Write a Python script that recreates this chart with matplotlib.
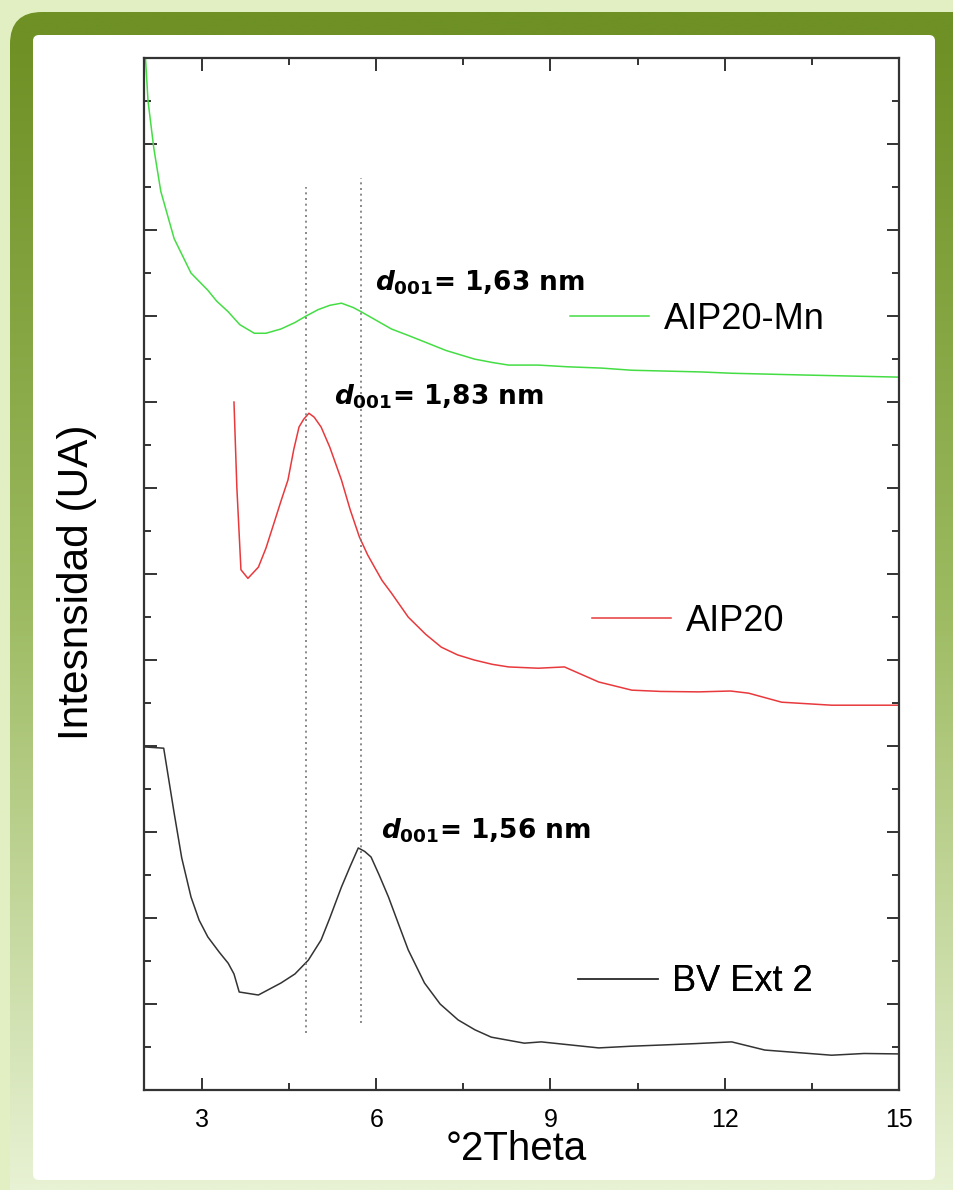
import numpy as np
import matplotlib
matplotlib.use("Agg")
from matplotlib import pyplot as plt
from matplotlib.patches import FancyBboxPatch
from matplotlib.ticker import MultipleLocator

plt.rcParams['font.family'] = ['Liberation Sans', 'DejaVu Sans']
plt.rcParams['mathtext.fontset'] = 'custom'
plt.rcParams['mathtext.rm'] = 'DejaVu Sans:bold'
plt.rcParams['mathtext.it'] = 'DejaVu Sans:oblique:bold'

green_x = [2.0, 2.07, 2.17, 2.29, 2.52, 2.81, 3.10, 3.25, 3.45, 3.65, 3.90, 4.10, 4.36, 4.60,
           4.79, 5.00, 5.20, 5.40, 5.60, 5.74, 6.00, 6.26, 6.55, 6.83, 7.20, 7.69, 8.00, 8.28,
           8.79, 9.30, 9.88, 10.40, 11.60, 12.12, 13.33, 15.0]
green_y = [24.6, 23.0, 21.9, 20.9, 19.8, 19.0, 18.6, 18.35, 18.1, 17.8, 17.6, 17.6, 17.7, 17.85,
           18.0, 18.15, 18.25, 18.3, 18.2, 18.1, 17.9, 17.7, 17.55, 17.4, 17.2, 17.0, 16.92, 16.86,
           16.86, 16.82, 16.79, 16.74, 16.70, 16.67, 16.63, 16.58]

red_x = [3.55, 3.60, 3.67, 3.79, 3.97, 4.10, 4.24, 4.36, 4.48, 4.58, 4.67, 4.75, 4.84, 4.93,
         5.05, 5.20, 5.40, 5.55, 5.71, 5.85, 5.97, 6.10, 6.26, 6.55, 6.85, 7.12, 7.40, 7.69,
         8.00, 8.28, 8.79, 9.24, 9.83, 10.40, 10.90, 11.55, 12.10, 12.41, 12.98, 13.84, 15.0]
red_y = [16.0, 14.0, 12.1, 11.9, 12.16, 12.6, 13.19, 13.7, 14.19, 14.9, 15.42, 15.6, 15.74, 15.65,
         15.42, 14.95, 14.19, 13.5, 12.86, 12.45, 12.16, 11.85, 11.56, 11.0, 10.6, 10.3, 10.12, 10.0,
         9.9, 9.84, 9.81, 9.84, 9.49, 9.30, 9.27, 9.26, 9.28, 9.23, 9.02, 8.95, 8.95]

black_x = [2.0, 2.34, 2.52, 2.65, 2.81, 2.95, 3.10, 3.30, 3.45, 3.55, 3.64, 3.97, 4.36, 4.60,
           4.83, 5.05, 5.20, 5.40, 5.55, 5.69, 5.80, 5.91, 6.05, 6.21, 6.40, 6.55, 6.83, 7.10,
           7.41, 7.70, 7.98, 8.55, 8.84, 9.83, 10.40, 10.97, 11.50, 12.12, 12.69, 13.84, 14.40, 15.0]
black_y = [7.98, 7.95, 6.44, 5.4, 4.49, 3.95, 3.56, 3.2, 2.95, 2.7, 2.28, 2.21, 2.49, 2.7,
           3.02, 3.49, 4.0, 4.72, 5.2, 5.63, 5.55, 5.42, 5.0, 4.49, 3.8, 3.26, 2.49, 2.0,
           1.63, 1.4, 1.23, 1.09, 1.12, 0.98, 1.02, 1.05, 1.08, 1.12, 0.93, 0.81, 0.85, 0.84]

names = ["AIP20-Mn", "AIP20", "BV Ext 2"]
colors = ["#44dd44", "#e8393c", "#333333"]

# lineas de referencia (posicion de los picos)
peak_x = [4.79, 5.74]
peak_ymin = [1.33, 1.56]
peak_ymax = [21.0, 21.2]

# etiquetas d001
d_labels = ["= 1,63 nm", "= 1,83 nm", "= 1,56 nm"]
d_x = [5.97, 5.28, 6.09]
d_y = [18.6, 15.95, 5.86]

# posicion de cada leyenda (fraccion de ejes)
leg_pos = [(0.564, 0.747), (0.593, 0.4545), (0.575, 0.1047)]

fig = plt.figure(figsize=(9.54, 11.9), dpi=100, facecolor="#e2efc3")

# marco verde con degradado
bg = fig.add_axes([0, 0, 1, 1])
bg.set_xlim(0, 954)
bg.set_ylim(1190, 0)
bg.axis("off")
rows = np.linspace(0, 1190, 400)
stops = [0, 40, 600, 1190]
c_top = np.array([0x6e, 0x90, 0x24]) / 255
c_mid = np.array([0x9c, 0xba, 0x60]) / 255
c_bot = np.array([0xe8, 0xf2, 0xd4]) / 255
cols = np.stack([c_top, c_top, c_mid, c_bot])
grad = np.stack([np.interp(rows, stops, cols[:, k]) for k in range(3)], axis=-1)[:, None, :]
frame = FancyBboxPatch((10, 12), 1000, 1300, boxstyle="round,pad=0,rounding_size=32",
                       facecolor="none", edgecolor="none")
bg.add_patch(frame)
im = bg.imshow(grad, extent=[0, 954, 1190, 0], aspect="auto", zorder=0)
im.set_clip_path(frame)
bg.add_patch(FancyBboxPatch((33, 35), 902, 1145, boxstyle="round,pad=0,rounding_size=6",
                            facecolor="white", edgecolor="none", zorder=1))

ax = fig.add_axes([0.1509, 0.0840, 0.7914, 0.8672])
ax.set_facecolor("white")

lines = []
for xs, ys, c, n in zip([green_x, red_x, black_x], [green_y, red_y, black_y], colors, names):
    ln, = ax.plot(xs, ys, color=c, lw=1.1, label=n)
    lines.append(ln)

for px, y0, y1 in zip(peak_x, peak_ymin, peak_ymax):
    ax.plot([px, px], [y0, y1], color="#777777", lw=1.2, ls=(0, (1.2, 2.2)))

for lab, tx, ty in zip(d_labels, d_x, d_y):
    ax.text(tx, ty, r"$d_{\mathit{001}}$" + lab, fontsize=19, fontweight="bold",
            family="DejaVu Sans", va="baseline", ha="left")

for ln, pos in zip(lines, leg_pos):
    leg = ax.legend(handles=[ln], loc="center left", bbox_to_anchor=pos, frameon=False,
                    fontsize=26, handlelength=2.2, handletextpad=0.4,
                    borderpad=0, borderaxespad=0)
    ax.add_artist(leg)

ax.set_xlim(2, 15)
ax.set_ylim(0, 24)
ax.set_xticks([3, 6, 9, 12, 15])
ax.xaxis.set_minor_locator(MultipleLocator(1.5))
ax.set_yticks(range(2, 24, 2))
ax.yaxis.set_minor_locator(MultipleLocator(1))
ax.tick_params(which="both", direction="in", top=True, right=True, width=1.4, color="#333333")
ax.tick_params(which="major", length=9, labelsize=18, pad=13)
ax.tick_params(which="minor", length=5)
ax.tick_params(axis="y", labelleft=False)
for sp in ax.spines.values():
    sp.set_linewidth(1.6)
    sp.set_color("#333333")

ax.set_xlabel("°2Theta", fontsize=29, va="baseline")
ax.xaxis.set_label_coords(0.4927, -0.0678)
ax.set_ylabel("Intesnsidad (UA)", fontsize=30.5, va="center")
ax.yaxis.set_label_coords(-0.0888, 0.492)

plt.savefig("out.png", dpi=100, facecolor=fig.get_facecolor())
